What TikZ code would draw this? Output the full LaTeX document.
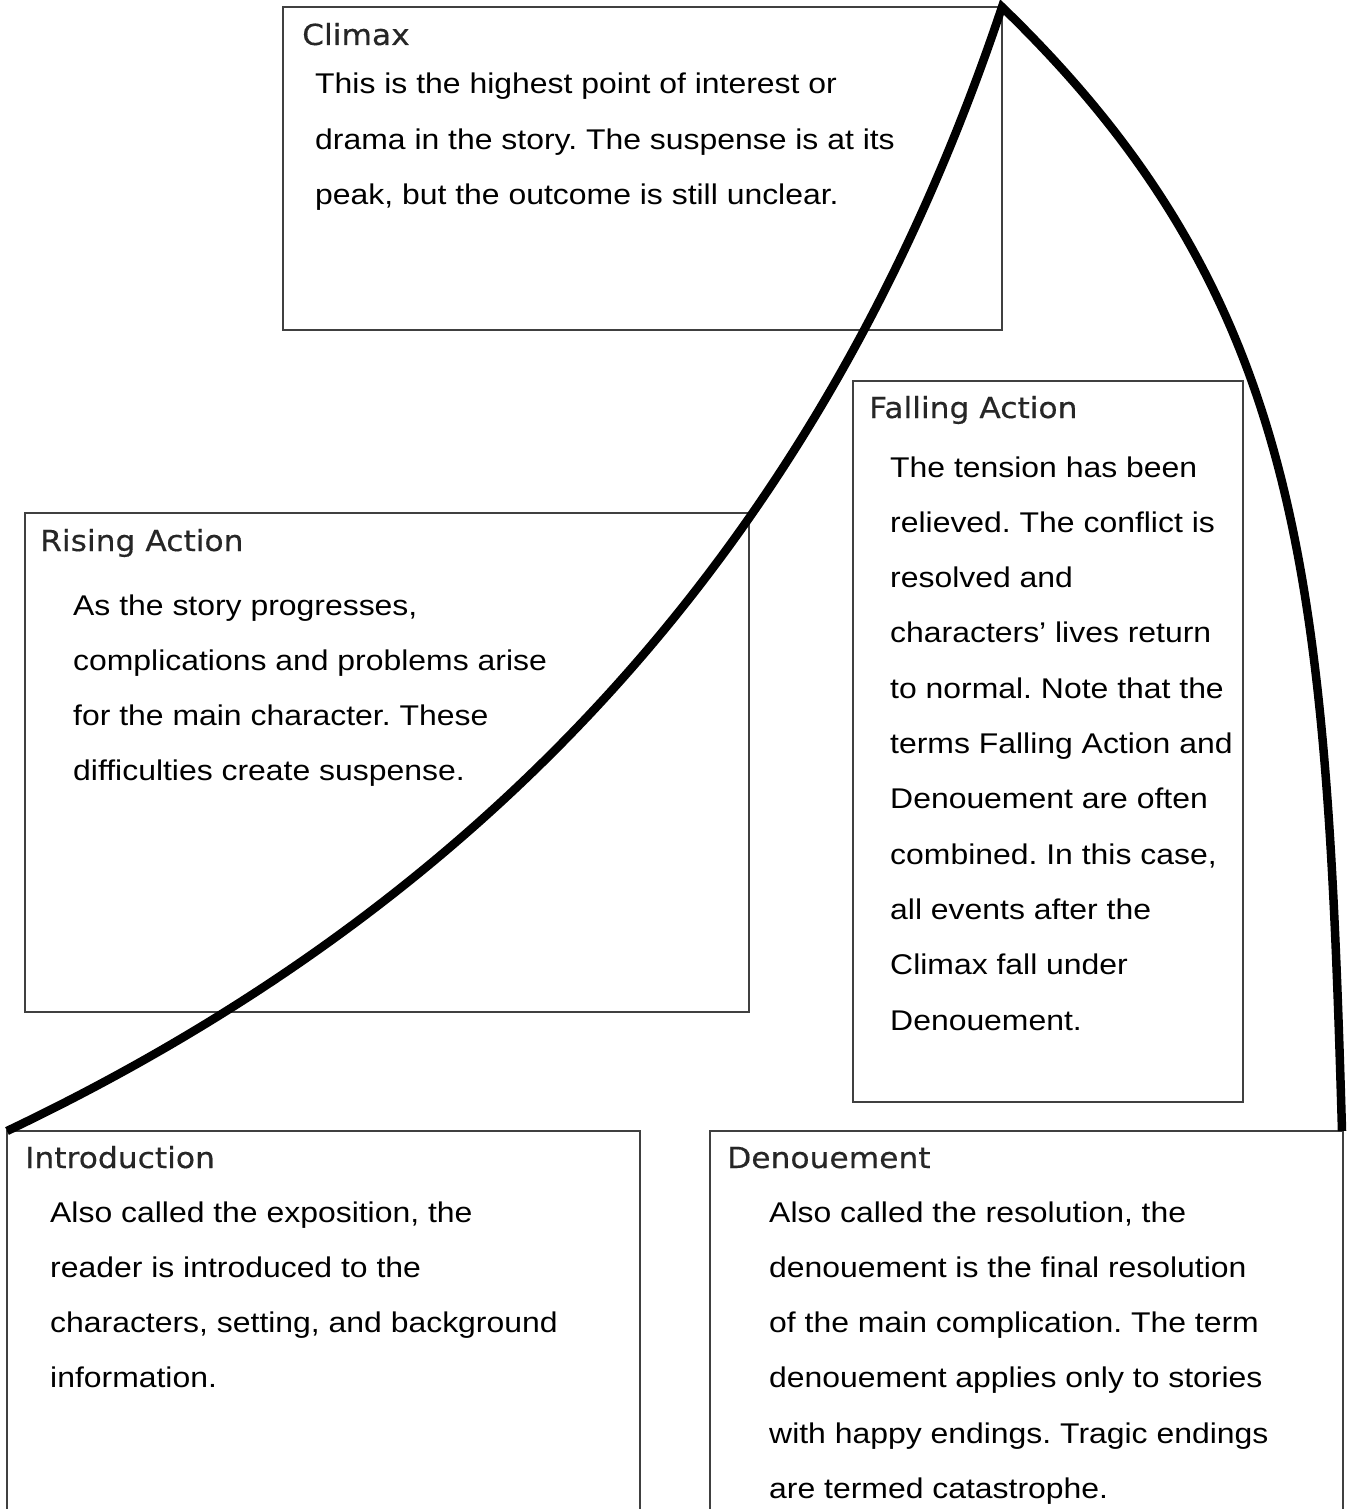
\documentclass[tikz,border=0pt]{standalone}
\usepackage{fontspec}
\newfontfamily\bodyfont[FakeStretch=1.12]{Liberation Sans}
\newfontfamily\titlefont[FakeStretch=1.08,FakeBold=0.4]{DejaVu Sans}
\frenchspacing
\begin{document}
\frenchspacing
\begin{tikzpicture}[x=1pt,y=-1pt,
  box/.style={draw=black!75, line width=1.8pt, inner sep=0pt, outer sep=0pt, anchor=north west},
  curve/.style={line width=8.5pt, line join=miter},
  ttl/.style={font=\titlefont\fontsize{29}{30}\selectfont, text=black!85, inner sep=0pt, anchor=base west},
  bdy/.style={font=\bodyfont\fontsize{28.5}{30}\selectfont, inner sep=0pt, anchor=base west}]
\useasboundingbox (0,0) rectangle (1347,1509);
% boxes
\node[box, minimum width=719pt, minimum height=323pt] (climaxbox) at (283,7) {};
\node[box, minimum width=724pt, minimum height=499pt] (risingbox) at (25,513) {};
\node[box, minimum width=390pt, minimum height=721pt] (fallingbox) at (853,381) {};
\coordinate (ibl) at (7,1509); \coordinate (itl) at (7,1131);
\coordinate (itr) at (640,1131); \coordinate (ibr) at (640,1509);
\draw[box] (ibl) -- (itl) -- (itr) -- (ibr);
\coordinate (dbl) at (710,1509); \coordinate (dtl) at (710,1131);
\coordinate (dtr) at (1343,1131); \coordinate (dbr) at (1343,1509);
\draw[box] (dbl) -- (dtl) -- (dtr) -- (dbr);
% titles
\node[ttl] (climaxT) at (302,45) {Climax};
\node[ttl] (risingT) at (40,551) {Rising Action};
\node[ttl] (fallingT) at (869,418) {Falling Action};
\node[ttl] (introT) at (25,1168) {Introduction};
\node[ttl] (denT) at (727,1168) {Denouement};
% body text
\foreach \t [count=\i] in {{This is the highest point of interest or},{drama in the story. The suspense is at its},{peak, but the outcome is still unclear.}}
  \node[bdy] (cl\i) at (315,{94+55.3*(\i-1)}) {\t};
\foreach \t [count=\i] in {{As the story progresses,},{complications and problems arise},{for the main character. These},{difficulties create suspense.}}
  \node[bdy] (ri\i) at (73,{615+55.3*(\i-1)}) {\t};
\foreach \t [count=\i] in {{The tension has been},{relieved. The conflict is},{resolved and},{characters’ lives return},{to normal. Note that the},{terms Falling Action and},{Denouement are often},{combined. In this case,},{all events after the},{Climax fall under},{Denouement.}}
  \node[bdy] (fa\i) at (890,{477+55.3*(\i-1)}) {\t};
\foreach \t [count=\i] in {{Also called the exposition, the},{reader is introduced to the},{characters, setting, and background},{information.}}
  \node[bdy] (in\i) at (50,{1222+55.3*(\i-1)}) {\t};
\foreach \t [count=\i] in {{Also called the resolution, the},{denouement is the final resolution},{of the main complication. The term},{denouement applies only to stories},{with happy endings. Tragic endings},{are termed catastrophe.}}
  \node[bdy] (de\i) at (769,{1222+55.3*(\i-1)}) {\t};
% plot curve
\coordinate (start) at (7,1131);
\coordinate (peak) at (1002,7);
\coordinate (end) at (1342,1131);
\draw[curve] (start) .. controls (530,882) and (838,497) .. (peak)
  .. controls (1305,300) and (1326,581) .. (end);
\end{tikzpicture}
\end{document}
